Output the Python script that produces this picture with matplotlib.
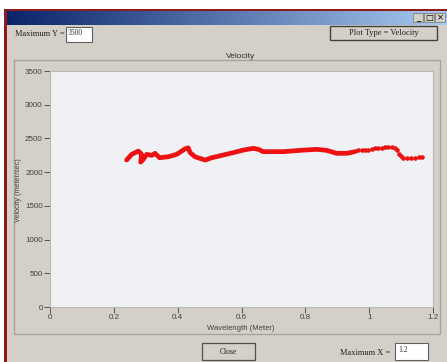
import numpy as np
import matplotlib
matplotlib.use("Agg")
import matplotlib.pyplot as plt
from matplotlib.patches import Rectangle

# wavelength (m) / velocity (m/s), continuous part of the trace
wave_line = [0.240, 0.256, 0.277, 0.287, 0.284, 0.292, 0.303, 0.319, 0.329, 0.343,
             0.371, 0.397, 0.423, 0.433, 0.439, 0.454, 0.470, 0.486, 0.507, 0.543,
             0.574, 0.606, 0.637, 0.653, 0.668, 0.731, 0.783, 0.836, 0.867, 0.898,
             0.930, 0.950]
vel_line = [2180, 2264, 2313, 2264, 2149, 2189, 2264, 2249, 2279, 2214,
            2229, 2264, 2345, 2360, 2289, 2229, 2204, 2179, 2214, 2254,
            2289, 2328, 2353, 2338, 2304, 2304, 2323, 2338, 2323, 2279,
            2279, 2299]

# sparser tail drawn as separate dots
wave_dots = [0.956, 0.966, 0.977, 0.987, 0.997, 1.008, 1.018, 1.029, 1.039, 1.050,
             1.060, 1.071, 1.081, 1.088, 1.093, 1.099, 1.107, 1.118, 1.130, 1.143,
             1.155, 1.165]
vel_dots = [2313, 2323, 2328, 2333, 2333, 2343, 2353, 2358, 2363, 2368,
            2368, 2368, 2363, 2323, 2274, 2234, 2214, 2214, 2214, 2214,
            2219, 2219]

x_ticks = [0, 0.2, 0.4, 0.6, 0.8, 1, 1.2]
y_ticks = [0, 500, 1000, 1500, 2000, 2500, 3000, 3500]

W, H = 447, 362
GRAY = "#d4d0c8"


def fx(px):
    return px / W


def fy(py):
    return 1 - py / H


fig = plt.figure(figsize=(W / 100, H / 100), dpi=100)
fig.patch.set_facecolor("white")

# window chrome drawn in pixel coordinates
bg = fig.add_axes([0, 0, 1, 1])
bg.set_xlim(0, W)
bg.set_ylim(H, 0)
bg.axis("off")

bg.add_patch(Rectangle((4, 9), W - 4, H - 9, facecolor="#8e1b1b", edgecolor="none"))
bg.add_patch(Rectangle((7, 11), W - 7, H - 11, facecolor=GRAY, edgecolor="none"))
grad = np.linspace(0, 1, 256).reshape(1, -1)
cmap = matplotlib.colors.LinearSegmentedColormap.from_list("tb", ["#0a246a", "#a6caf0"])
bg.imshow(grad, cmap=cmap, aspect="auto", extent=(7, W, 25, 11), zorder=1)
for i, s in enumerate(["_", "□", "×"]):
    x0 = 413 + i * 11
    bg.add_patch(Rectangle((x0, 13), 10, 9, facecolor=GRAY, edgecolor="#808080",
                           lw=0.6, zorder=2))
    bg.text(x0 + 5, 17.5, s, ha="center", va="center", fontsize=6,
            color="black", zorder=3)

serif = "Liberation Serif"
bg.text(15, 34, "Maximum Y =", fontsize=6, family=serif, va="center", color="#202020")
bg.add_patch(Rectangle((66, 27), 26, 15, facecolor="white", edgecolor="#606060", lw=0.8))
bg.text(68, 33, "3500", fontsize=5.5, family=serif, va="center", color="#303030")

bg.add_patch(Rectangle((330, 26), 107, 14, facecolor=GRAY, edgecolor="#404040", lw=1.0))
bg.text(383.5, 33, "Plot Type = Velocity", fontsize=6, family=serif,
        ha="center", va="center", color="#202020")

# plot panel
bg.add_patch(Rectangle((14, 60), 426, 274, facecolor=GRAY, edgecolor="#a8a49c", lw=1.0))
bg.text(241, 57, "Velocity", fontsize=6, ha="center", va="center",
        family="Liberation Sans", color="#303030")
bg.text(19, 190, "Velocity (meter/sec)", fontsize=5.2, rotation=90,
        ha="center", va="center", family="Liberation Sans", color="#404040")
bg.text(241, 328, "Wavelength (Meter)", fontsize=5.5, ha="center", va="center",
        family="Liberation Sans", color="#404040")

bg.add_patch(Rectangle((202, 343), 53, 17, facecolor=GRAY, edgecolor="#505050", lw=0.9))
bg.text(228.5, 351.5, "Close", fontsize=5.5, family=serif, ha="center",
        va="center", color="#202020")
bg.text(340, 353, "Maximum X =", fontsize=6, family=serif, va="center", color="#202020")
bg.add_patch(Rectangle((395, 343), 33, 17, facecolor="white", edgecolor="#606060", lw=0.8))
bg.text(398, 350, "1.2", fontsize=5.5, family=serif, va="center", color="#303030")

# chart
ax = fig.add_axes([fx(50), fy(307), fx(433) - fx(50), fy(71) - fy(307)])
ax.set_facecolor("#eff1f4")
ax.plot(wave_line, vel_line, color="#ee1111", lw=3.4, solid_capstyle="round",
        solid_joinstyle="round")
ax.plot(wave_dots, vel_dots, "o", color="#ee1111", ms=3.3, mew=0)
ax.set_xlim(0, 1.2)
ax.set_ylim(0, 3500)
ax.set_xticks(x_ticks)
ax.set_xticklabels(["0", "0.2", "0.4", "0.6", "0.8", "1", "1.2"])
ax.set_yticks(y_ticks)
ax.tick_params(labelsize=5.8, colors="#404040", length=4, width=0.6, pad=1.2)
for lab in ax.get_xticklabels() + ax.get_yticklabels():
    lab.set_family("Liberation Sans")
for s in ax.spines.values():
    s.set_color("#b8b8b8")
    s.set_linewidth(0.8)

fig.savefig("out.png", dpi=100, facecolor=fig.get_facecolor())
